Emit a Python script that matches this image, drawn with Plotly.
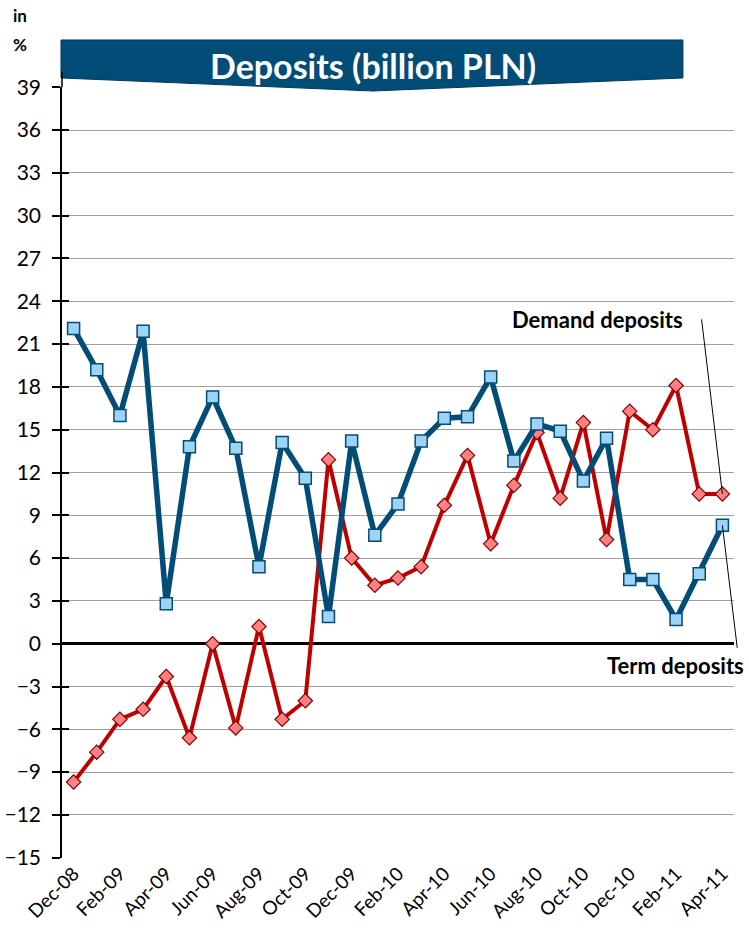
import plotly.graph_objects as go

months = ["Dec-08", "Jan-09", "Feb-09", "Mar-09", "Apr-09", "May-09", "Jun-09", "Jul-09",
          "Aug-09", "Sep-09", "Oct-09", "Nov-09", "Dec-09", "Jan-10", "Feb-10", "Mar-10",
          "Apr-10", "May-10", "Jun-10", "Jul-10", "Aug-10", "Sep-10", "Oct-10", "Nov-10",
          "Dec-10", "Jan-11", "Feb-11", "Mar-11", "Apr-11"]

term_deposits = [22.1, 19.2, 16.0, 21.9, 2.8, 13.8, 17.3, 13.7, 5.4, 14.1, 11.6, 1.9, 14.2, 7.6,
                 9.8, 14.2, 15.8, 15.9, 18.7, 12.8, 15.4, 14.9, 11.4, 14.4, 4.5, 4.5, 1.7, 4.9, 8.3]

demand_deposits = [-9.7, -7.6, -5.3, -4.6, -2.3, -6.6, 0.0, -5.9, 1.2, -5.3, -4.0, 12.9, 6.0, 4.1,
                   4.6, 5.4, 9.7, 13.2, 7.0, 11.1, 14.8, 10.2, 15.5, 7.3, 16.3, 15.0, 18.1, 10.5, 10.5]

y_ticks = list(range(-15, 40, 3))
x_tick_labels = months[::2]

title_text = "Deposits (billion PLN)"
unit_lines = ["in", "%"]
FONT = "Lato, 'Open Sans', sans-serif"
Y_RANGE = [-15.02, 39.02]

fig = go.Figure()

fig.add_trace(go.Scatter(
    x=months, y=demand_deposits, mode="lines+markers", name="Demand deposits",
    line=dict(color="#C00000", width=4),
    marker=dict(symbol="diamond", size=11, color="#FF8080",
                line=dict(color="#7F0000", width=1.2)),
))
fig.add_trace(go.Scatter(
    x=months, y=term_deposits, mode="lines+markers", name="Term deposits",
    line=dict(color="#024C78", width=5.5),
    marker=dict(symbol="square", size=12, color="#9DD3F5",
                line=dict(color="#024C78", width=1.5)),
))
# helper trace so the inside-tick overlay axis is drawn
fig.add_trace(go.Scatter(x=[months[0]], y=[None], yaxis="y2", mode="markers",
                         showlegend=False, hoverinfo="skip"))

fig.update_layout(
    template="none",
    width=749, height=936,
    margin=dict(l=62, r=15, t=87, b=78),
    paper_bgcolor="white", plot_bgcolor="rgba(0,0,0,0)",
    showlegend=False,
    font=dict(family=FONT, color="black"),
    xaxis=dict(
        type="category", range=[-0.5, len(months) - 0.5],
        tickmode="array", tickvals=x_tick_labels, ticktext=x_tick_labels,
        tickangle=-45, tickfont=dict(size=19, family=FONT, color="black"),
        showgrid=False, showline=False, ticks="", zeroline=False,
    ),
    yaxis=dict(
        range=Y_RANGE, tickmode="array", tickvals=y_ticks,
        tickfont=dict(size=21, family=FONT, color="black"),
        ticklabelstandoff=7,
        showgrid=True, gridcolor="#A0A0A0", gridwidth=1,
        zeroline=True, zerolinecolor="black", zerolinewidth=3,
        showline=True, linecolor="black", linewidth=1.5,
        ticks="outside", ticklen=8, tickcolor="black", tickwidth=1.5,
    ),
    yaxis2=dict(overlaying="y", anchor="x", side="left", range=Y_RANGE,
                tickmode="array", tickvals=y_ticks, showticklabels=False,
                showgrid=False, zeroline=False, showline=False,
                ticks="inside", ticklen=7, tickcolor="black", tickwidth=1.5),
)

# axis line extension above the plot area
fig.add_shape(type="line", xref="paper", yref="paper", x0=0, x1=0, y0=1.0, y1=1.02,
              line=dict(color="black", width=1.5))

# Title banner (paper coordinates)
fig.add_shape(
    type="path", xref="paper", yref="paper",
    path="M -0.0015,1.061 L 0.924,1.061 L 0.924,1.0117 L 0.4628,0.9948 L -0.0015,1.0117 Z",
    fillcolor="#024C78", line=dict(color="#01385A", width=1), layer="below",
)
fig.add_annotation(
    text="<b>" + title_text + "</b>", xref="paper", yref="paper",
    x=0.4628, y=1.0285, yanchor="middle", showarrow=False,
    font=dict(size=34, color="white", family=FONT),
)

# unit label
fig.add_annotation(text="<b>" + unit_lines[0] + "</b>", xref="paper", yref="paper",
                   x=-0.076, y=1.093, xanchor="left", yanchor="middle", showarrow=False,
                   font=dict(size=17, family=FONT))
fig.add_annotation(text="<b>" + unit_lines[1] + "</b>", xref="paper", yref="paper",
                   x=-0.076, y=1.055, xanchor="left", yanchor="middle", showarrow=False,
                   font=dict(size=17, family=FONT))

# series labels with leader lines
fig.add_annotation(text="<b>Demand deposits</b>", xref="paper", yref="paper",
                   x=0.927, y=0.698, xanchor="right", yanchor="middle", showarrow=False,
                   font=dict(size=22, family=FONT))
fig.add_annotation(text="", x=months[-1], y=demand_deposits[-1],
                   showarrow=True, arrowhead=0, arrowwidth=1, arrowcolor="black",
                   ax=-21, ay=-176, standoff=0, startstandoff=0)

fig.add_annotation(text="<b>Term deposits</b>", xref="paper", yref="paper",
                   x=1.018, y=0.2503, xanchor="right", yanchor="middle", showarrow=False,
                   font=dict(size=22, family=FONT))
fig.add_annotation(text="", x=months[-1], y=term_deposits[-1],
                   showarrow=True, arrowhead=0, arrowwidth=1, arrowcolor="black",
                   ax=15, ay=124, standoff=0, startstandoff=0)

fig.write_html("out.html")
